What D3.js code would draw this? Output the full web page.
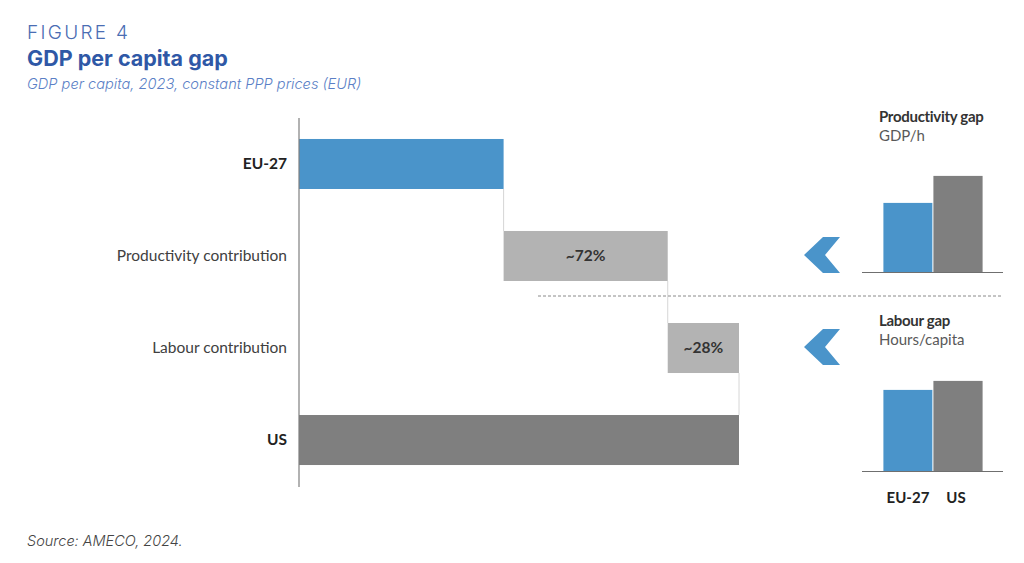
<!DOCTYPE html>
<html>
<head>
<meta charset="utf-8">
<script src="https://cdn.jsdelivr.net/npm/d3@7"></script>
<style>
  body { margin: 0; background: #fff; }
  svg { display: block; }
</style>
</head>
<body>
<div id="chart"></div>
<script>
// waterfall: GDP per capita gap, index US = 100
const categories = ["EU-27", "Productivity contribution", "Labour contribution", "US"];
const values = [46.5, 37.3, 16.2, 100];
const kinds = ["total", "step", "step", "total"];
const stepLabels = ["", "~72%", "~28%", ""];

// side panels, index (tallest ~100)
const gapGroups = ["EU-27", "US"];
const productivityGap = [70, 97];
const labourGap = [82, 91];

const W = 1024, H = 563;
const blue = "#4a94ca", darkGray = "#7f7f7f", lightGray = "#b3b3b3";

const svg = d3.select("#chart").append("svg")
  .attr("width", W).attr("height", H);

// header
svg.append("text").attr("x", 27).attr("y", 39)
  .text("FIGURE 4")
  .style("font-family", "Inter, 'Open Sans', sans-serif")
  .style("font-size", "19px").style("font-weight", 300)
  .style("letter-spacing", "2.3px").attr("fill", "#4a6db3");

svg.append("text").attr("x", 27).attr("y", 66)
  .text("GDP per capita gap")
  .style("font-family", "Inter, 'Open Sans', sans-serif")
  .style("font-size", "21.5px").style("font-weight", 700)
  .attr("fill", "#2f58a6");

svg.append("text").attr("x", 27).attr("y", 89)
  .text("GDP per capita, 2023, constant PPP prices (EUR)")
  .style("font-family", "Inter, 'Open Sans', sans-serif")
  .style("font-size", "14.6px").style("font-style", "italic").style("font-weight", 300)
  .attr("fill", "#5b7fc6");

svg.append("text").attr("x", 27).attr("y", 546)
  .text("Source: AMECO, 2024.")
  .style("font-family", "Inter, 'Open Sans', sans-serif")
  .style("font-size", "14.5px").style("font-style", "italic").style("font-weight", 300)
  .attr("fill", "#444");

// main waterfall
const x = d3.scaleLinear().domain([0, 100]).range([299, 739]);
const y = d3.scaleBand().domain(categories)
  .range([118, 486]).paddingInner(0.4565).paddingOuter(0.228);

// start/end of each bar
let run = 0;
const bars = categories.map((c, i) => {
  let x0, x1;
  if (kinds[i] === "total") { x0 = 0; x1 = values[i]; run = values[i]; }
  else { x0 = run; x1 = run + values[i]; run = x1; }
  return { cat: c, x0, x1, kind: kinds[i], label: stepLabels[i], i };
});

const fillFor = d => d.i === 0 ? blue : (d.kind === "total" ? darkGray : lightGray);

svg.append("g").selectAll("rect")
  .data(bars).enter().append("rect")
  .attr("x", d => x(d.x0))
  .attr("y", d => y(d.cat))
  .attr("width", d => x(d.x1) - x(d.x0))
  .attr("height", y.bandwidth())
  .attr("fill", fillFor);

// connectors
svg.append("g").selectAll("line")
  .data(bars.slice(0, -1)).enter().append("line")
  .attr("x1", d => x(d.x1)).attr("x2", d => x(d.x1))
  .attr("y1", d => y(d.cat) + y.bandwidth())
  .attr("y2", d => y(categories[d.i + 1]))
  .attr("stroke", "#d6d6d6").attr("stroke-width", 1);

// axis line
svg.append("line")
  .attr("x1", 299).attr("x2", 299).attr("y1", 118).attr("y2", 487)
  .attr("stroke", "#7f7f7f").attr("stroke-width", 1.2);

// category labels
svg.append("g").selectAll("text")
  .data(bars).enter().append("text")
  .attr("x", 287)
  .attr("y", d => y(d.cat) + y.bandwidth() / 2)
  .attr("dy", "0.35em")
  .attr("text-anchor", "end")
  .text(d => d.cat)
  .style("font-family", "Lato, 'Open Sans', sans-serif")
  .style("font-size", "15.5px")
  .style("font-weight", d => d.kind === "total" ? 700 : 400)
  .attr("fill", d => d.kind === "total" ? "#222" : "#404040");

// step labels
svg.append("g").selectAll("text")
  .data(bars.filter(d => d.label)).enter().append("text")
  .attr("x", d => (x(d.x0) + x(d.x1)) / 2)
  .attr("y", d => y(d.cat) + y.bandwidth() / 2)
  .attr("dy", "0.35em")
  .attr("text-anchor", "middle")
  .text(d => d.label)
  .style("font-family", "Lato, 'Open Sans', sans-serif")
  .style("font-size", "15.5px").style("font-weight", 700)
  .attr("fill", "#333");

// separator
svg.append("line")
  .attr("x1", 538).attr("x2", 1003).attr("y1", 296).attr("y2", 296)
  .attr("stroke", "#8a8a8a").attr("stroke-width", 1)
  .attr("stroke-dasharray", "3,2");

// chevrons pointing at the step bars
const chevron = "M0,0 L19,-18 L36,-18 L21,0 L36,18 L19,18 Z";
svg.append("g").selectAll("path")
  .data(bars.filter(d => d.kind === "step")).enter().append("path")
  .attr("transform", d => `translate(804,${y(d.cat) + y.bandwidth() / 2 - 1})`)
  .attr("d", chevron)
  .attr("fill", blue);

// side mini charts
const mx = d3.scaleBand().domain(gapGroups).range([883, 983]).padding(0);
const panels = [
  { title: "Productivity gap", sub: "GDP/h", vals: productivityGap, base: 272.5, titleY: 122 },
  { title: "Labour gap", sub: "Hours/capita", vals: labourGap, base: 471.5, titleY: 326 }
];

panels.forEach((p, k) => {
  const my = d3.scaleLinear().domain([0, 100]).range([p.base, p.base - 100]);
  const g = svg.append("g");

  g.append("text").attr("x", 879).attr("y", p.titleY)
    .text(p.title)
    .style("font-family", "Lato, 'Open Sans', sans-serif")
    .style("font-size", "15px").style("font-weight", 700)
    .style("letter-spacing", "-0.3px")
    .attr("fill", "#333");
  g.append("text").attr("x", 879).attr("y", p.titleY + 19)
    .text(p.sub)
    .style("font-family", "Lato, 'Open Sans', sans-serif")
    .style("font-size", "15px")
    .attr("fill", "#595959");

  g.selectAll("rect")
    .data(gapGroups).enter().append("rect")
    .attr("x", d => mx(d))
    .attr("width", mx.bandwidth())
    .attr("y", (d, i) => my(p.vals[i]))
    .attr("height", (d, i) => my(0) - my(p.vals[i]))
    .attr("fill", (d, i) => i === 0 ? blue : darkGray)
    .attr("stroke", "#fff").attr("stroke-width", 0.8);

  g.append("line")
    .attr("x1", 862).attr("x2", 1003).attr("y1", p.base).attr("y2", p.base)
    .attr("stroke", "#6f6f6f").attr("stroke-width", 1.2);

  if (k === 1) {
    g.selectAll(".grp")
      .data(gapGroups).enter().append("text")
      .attr("x", d => mx(d) + mx.bandwidth() / 2 - (d === "US" ? 2 : 0))
      .attr("y", 503)
      .attr("text-anchor", "middle")
      .text(d => d)
      .style("font-family", "Lato, 'Open Sans', sans-serif")
      .style("font-size", "15px").style("font-weight", 700)
      .attr("fill", "#222");
  }
});
</script>
</body>
</html>
